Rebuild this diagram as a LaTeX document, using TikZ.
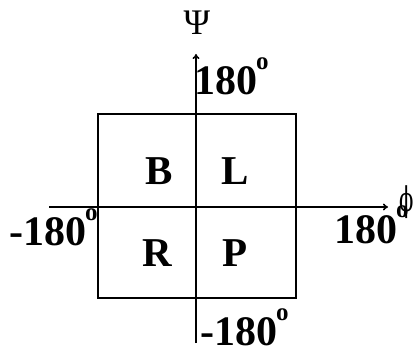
\documentclass[tikz,border=0pt]{standalone}
\usepackage{fontspec}
\setmainfont{Liberation Serif}
\newfontfamily\greekphi{DejaVu Serif}
\usetikzlibrary{arrows.meta}
\begin{document}
\begin{tikzpicture}[x=1pt,y=-1pt,
  lbl/.style={inner sep=0pt,anchor=base west,font=\fontsize{42}{42}\selectfont\bfseries},
  quad/.style={inner sep=0pt,anchor=center,font=\fontsize{41}{41}\selectfont\bfseries},
  axis/.style={line width=1.6pt,-{To[length=5pt,width=7pt]}},
  boxline/.style={line width=1.6pt}]
\newcommand\dgr{\kern-1pt\raisebox{25pt}{\fontsize{25}{25}\selectfont o}}
\useasboundingbox (0,0) rectangle (419,352);
\node[boxline,draw,minimum width=198pt,minimum height=184pt,inner sep=0pt,anchor=north west] (box) at (97,113) {};
\coordinate (xs) at (49,207);
\coordinate (xe) at (388,207);
\coordinate (ys) at (196,343);
\coordinate (ye) at (196,54);
\draw[axis] (xs) -- (xe);
\draw[axis] (ys) -- (ye);
\node[quad] (B) at (159,171) {B};
\node[quad] (L) at (235,171) {L};
\node[quad] (R) at (157,253) {R};
\node[quad] (P) at (235,253) {P};
\node[inner sep=0pt,anchor=center] (psi) at (197,23) {\fontsize{36}{36}\selectfont Ψ};
\node[inner sep=0pt,anchor=center] (phi) at (407,202) {\scalebox{0.62}[1]{\fontsize{34}{34}\greekphi ϕ}};
\node[lbl] (t180) at (194,95) {180\dgr};
\node[lbl] (l180) at (9,245) {-180\dgr};
\node[lbl] (r180) at (334,243) {180\dgr};
\node[lbl] (b180) at (200,345) {-180\dgr};
\end{tikzpicture}
\end{document}
